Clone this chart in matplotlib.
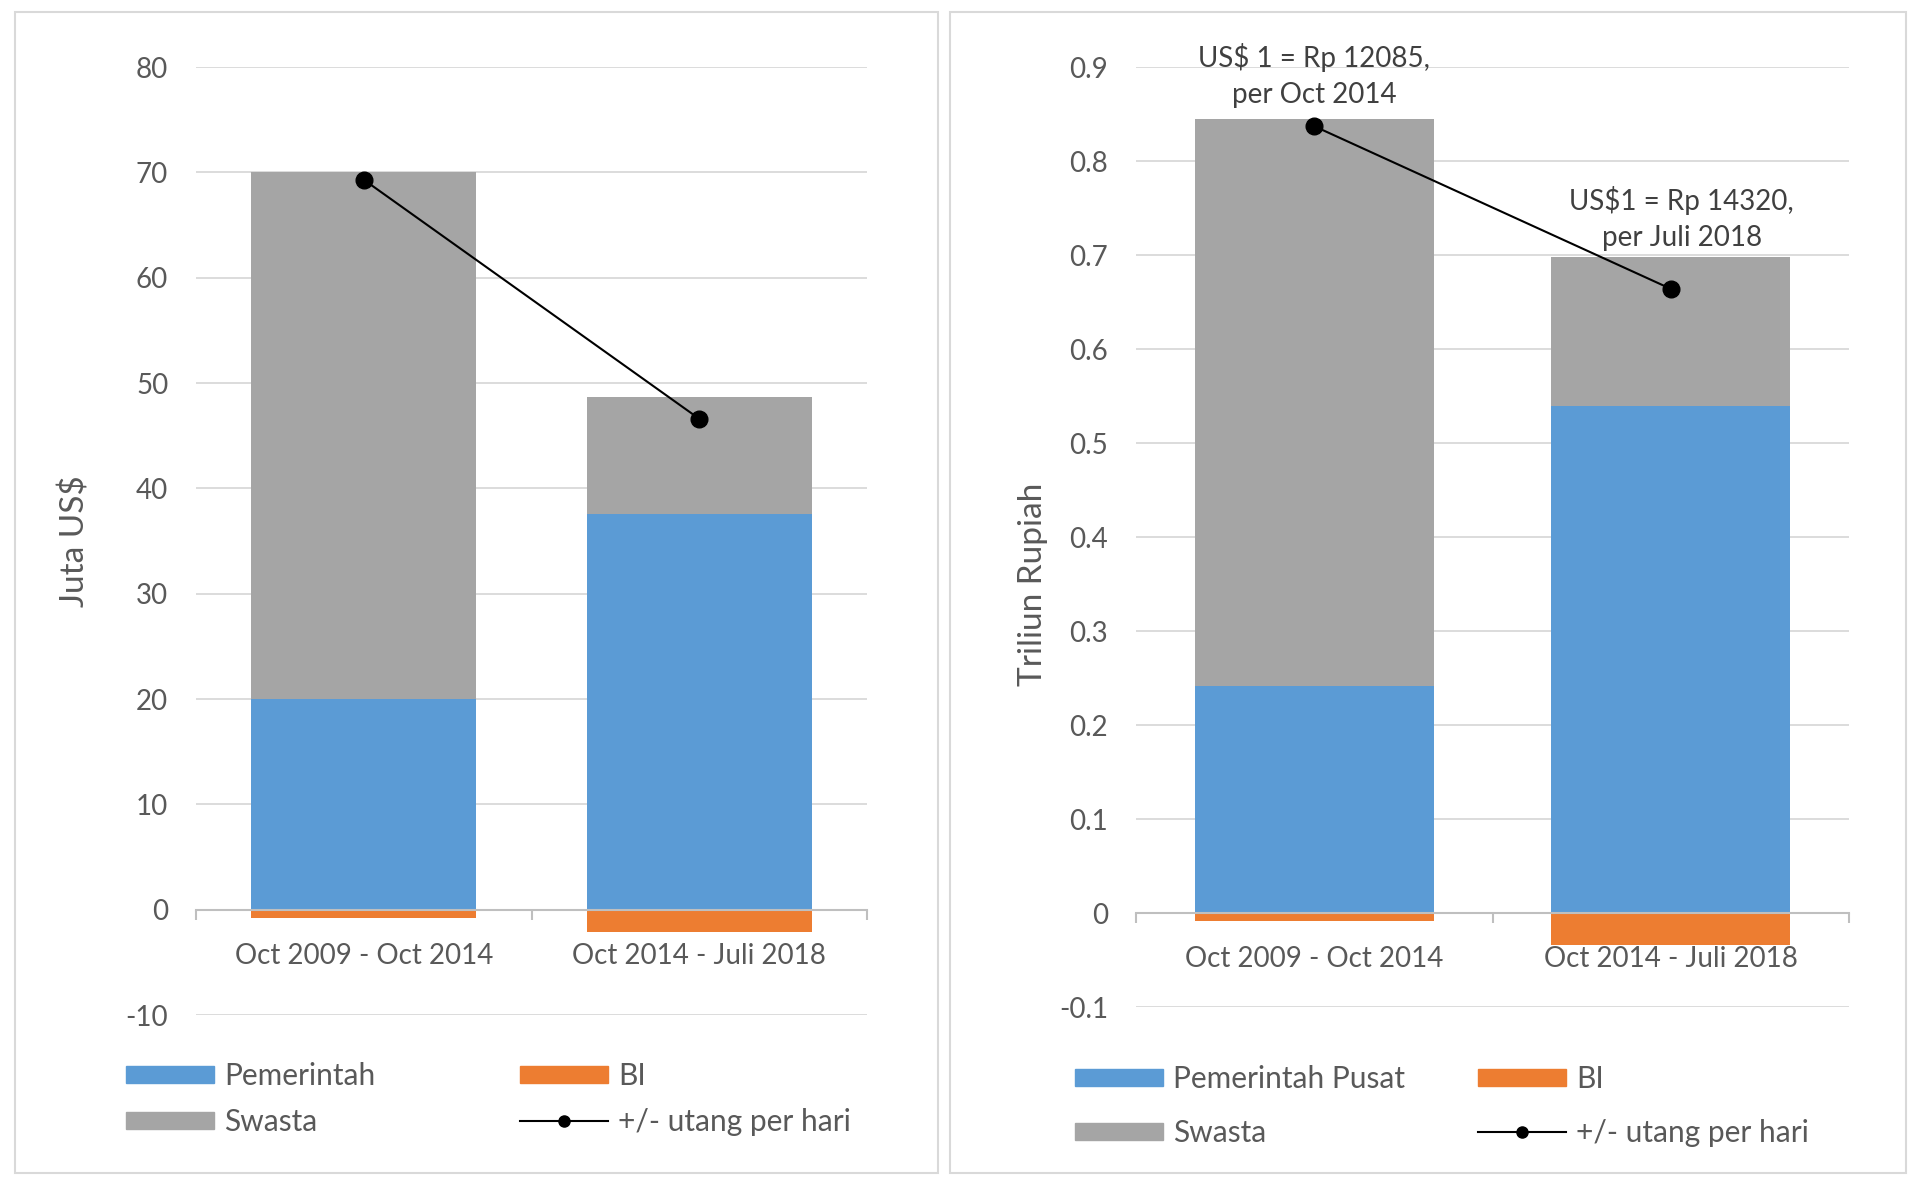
import matplotlib

matplotlib.use("Agg")
import matplotlib.pyplot as plt
from matplotlib.lines import Line2D
from matplotlib.patches import Patch, Rectangle
from matplotlib.ticker import FuncFormatter

plt.rcParams["font.family"] = ["Lato", "DejaVu Sans"]

categories = ["Oct 2009 - Oct 2014", "Oct 2014 - Juli 2018"]

# left panel: Juta US$
usd_pemerintah = [20.0, 37.6]
usd_bi = [-0.8, -2.1]
usd_swasta = [50.0, 11.1]
usd_net = [69.3, 46.6]

# right panel: Triliun Rupiah
idr_pemerintah = [0.241, 0.539]
idr_bi = [-0.009, -0.034]
idr_swasta = [0.604, 0.159]
idr_net = [0.837, 0.664]

rate_notes = ["US$ 1 = Rp 12085,\nper Oct 2014", "US$1 = Rp 14320,\nper Juli 2018"]

BLUE = "#5B9BD5"
ORANGE = "#ED7D31"
GREY = "#A5A5A5"
TEXT = "#595959"
GRID = "#d9d9d9"
FS = 20
FS_LEG = 21.5
FS_YLAB = 24

W, H = 1920, 1189
fig = plt.figure(figsize=(W / 100, H / 100), dpi=100)

# panel frames
for x0, x1 in [(15, 938), (950, 1906)]:
    fig.patches.append(Rectangle((x0 / W, 16 / H), (x1 - x0) / W, (1177 - 16) / H,
                                 transform=fig.transFigure, fill=False,
                                 edgecolor=GRID, linewidth=1.5))


def draw_panel(rect, pem, bi, swasta, net, ylim, yticks, ylabel, ylabel_pos, pem_label, fmt):
    ax = fig.add_axes(rect)
    x = list(range(len(categories)))
    ax.bar(x, pem, width=0.67, color=BLUE, zorder=3)
    ax.bar(x, bi, width=0.67, color=ORANGE, zorder=3)
    ax.bar(x, swasta, width=0.67, bottom=pem, color=GREY, zorder=3)
    ax.plot(x, net, color="black", linewidth=1.5, marker="o", markersize=12, zorder=5)

    ax.set_xlim(-0.5, 1.5)
    ax.set_ylim(*ylim)
    ax.set_yticks(yticks)
    ax.yaxis.set_major_formatter(FuncFormatter(fmt))
    ax.grid(axis="y", color=GRID, linewidth=1.3, zorder=0)
    ax.tick_params(axis="y", length=0, pad=20, labelsize=FS, labelcolor=TEXT)

    for side in ["left", "right", "top"]:
        ax.spines[side].set_visible(False)
    ax.spines["bottom"].set_position(("data", 0))
    ax.spines["bottom"].set_color("#bfbfbf")
    ax.spines["bottom"].set_linewidth(1.5)
    ax.spines["bottom"].set_zorder(4)

    ax.set_xticks(x)
    ax.set_xticklabels(categories)
    ax.set_xticks([-0.5, 0.5, 1.5], minor=True)
    ax.tick_params(axis="x", which="major", length=0, pad=24, labelsize=FS, labelcolor=TEXT)
    ax.tick_params(axis="x", which="minor", length=7, width=1.5, color="#bfbfbf", direction="out")

    ax.set_ylabel(ylabel, fontsize=FS_YLAB, color=TEXT)
    ax.yaxis.set_label_coords(*ylabel_pos)

    handles_a = [Patch(color=BLUE, label=pem_label), Patch(color=GREY, label="Swasta")]
    handles_b = [Patch(color=ORANGE, label="BI"),
                 Line2D([], [], color="black", linewidth=1.5, marker="o", markersize=8,
                        label="+/- utang per hari")]
    return ax, handles_a, handles_b


def fmt_usd(v, _):
    return f"{v:g}"


def fmt_idr(v, _):
    return f"{round(v, 2):g}"


ax1, la1, lb1 = draw_panel([196 / W, 174 / H, 671 / W, 948 / H],
                           usd_pemerintah, usd_bi, usd_swasta, usd_net,
                           (-10, 80), range(-10, 81, 10), "Juta US$", (-0.157, 0.5),
                           "Pemerintah", fmt_usd)
ax2, la2, lb2 = draw_panel([1136 / W, 182 / H, 713 / W, 940 / H],
                           idr_pemerintah, idr_bi, idr_swasta, idr_net,
                           (-0.1, 0.9), [i / 10 for i in range(-1, 10)], "Triliun Rupiah",
                           (-0.124, 0.45), "Pemerintah Pusat", fmt_idr)

ax2.annotate(rate_notes[0], (0, idr_net[0]), xytext=(0, 13), textcoords="offset points",
             ha="center", va="bottom", fontsize=FS, color="#404040", linespacing=1.5)
ax2.annotate(rate_notes[1], (1, idr_net[1]), xytext=(8, 27), textcoords="offset points",
             ha="center", va="bottom", fontsize=FS, color="#404040", linespacing=1.5)

legend_kw = dict(frameon=False, fontsize=FS_LEG, handlelength=2.95, handleheight=0.5,
                 handletextpad=0.33, borderpad=0, borderaxespad=0, labelcolor=TEXT,
                 loc="center left")
for handles, xpix, ypix, spacing in [(la1, 126, 1099, 0.59), (lb1, 520, 1099, 0.59),
                                     (la2, 1075, 1106, 0.87), (lb2, 1478, 1106, 0.87)]:
    fig.legend(handles=handles, bbox_to_anchor=(xpix / W, 1 - ypix / H),
               labelspacing=spacing, **legend_kw)

fig.savefig("out.png", dpi=100)
